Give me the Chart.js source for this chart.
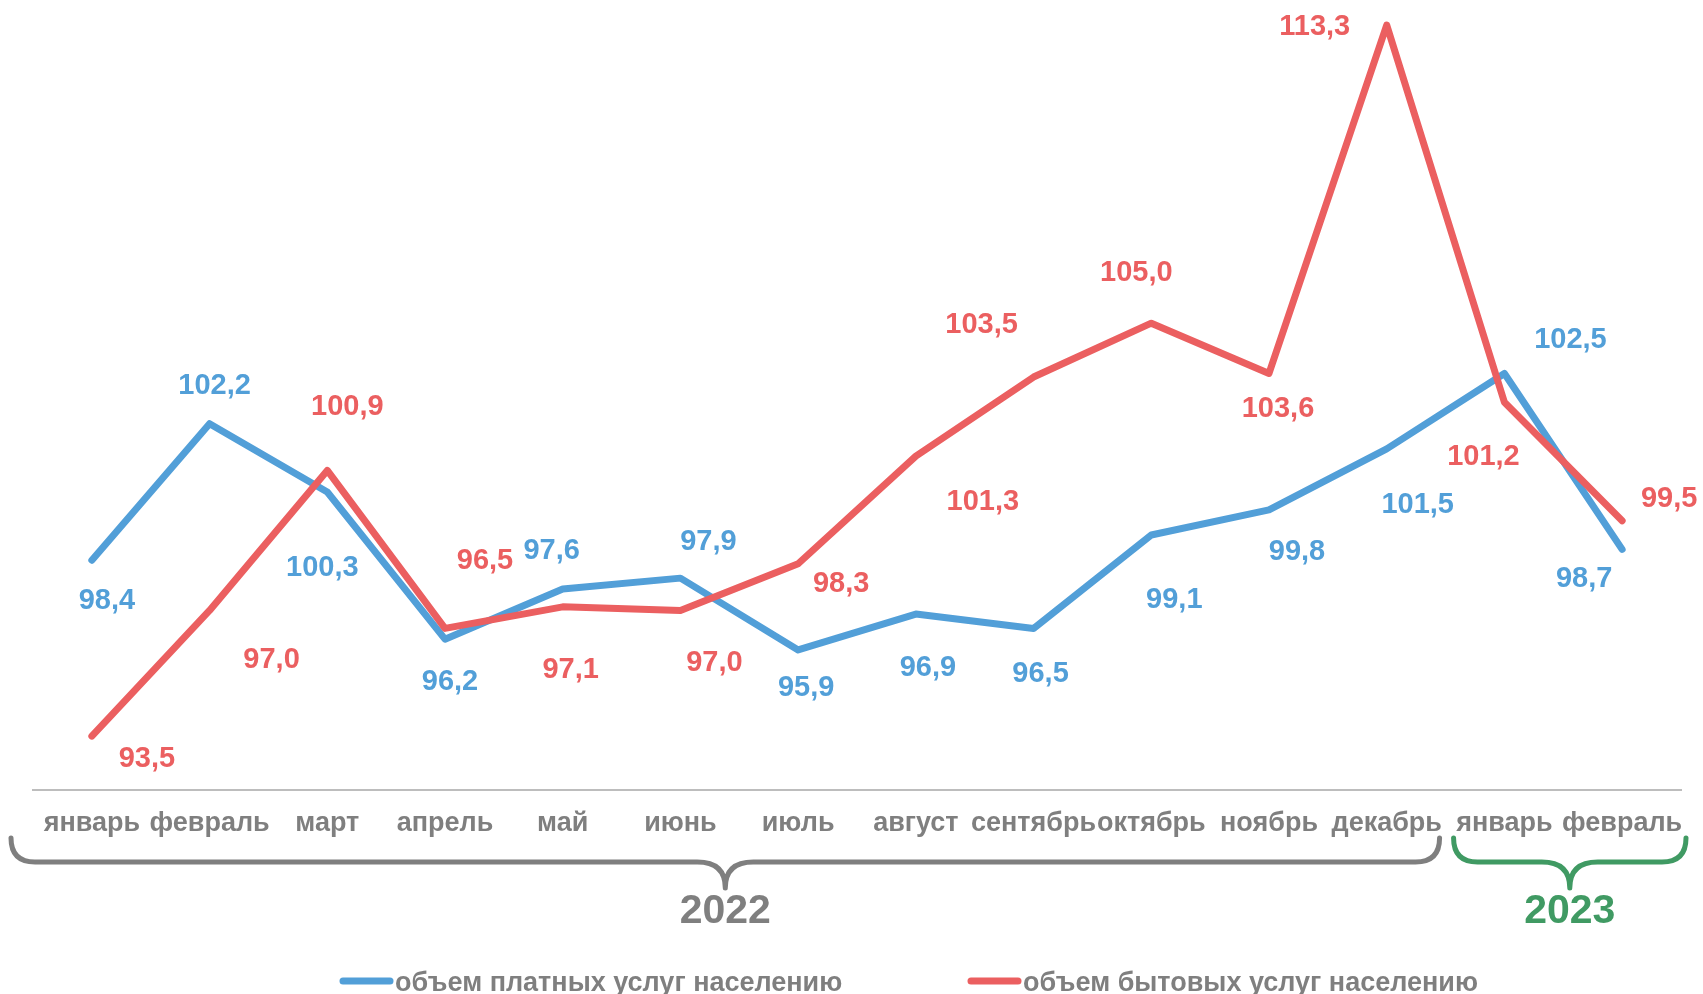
<!DOCTYPE html>
<html lang="ru">
<head>
<meta charset="utf-8">
<title>Объем платных и бытовых услуг населению</title>
<script src="https://cdn.jsdelivr.net/npm/chart.js@4.4.1/dist/chart.umd.min.js"></script>
<style>
  html, body { margin: 0; padding: 0; background: #fff; overflow: hidden; }
  #wrap { width: 1703px; height: 994px; position: relative; }
</style>
</head>
<body>
<div id="wrap"><canvas id="servicesChart"></canvas></div>
<script>
// months on the x axis, grouped into two years
const months = ['январь', 'февраль', 'март', 'апрель', 'май', 'июнь', 'июль',
  'август', 'сентябрь', 'октябрь', 'ноябрь', 'декабрь', 'январь', 'февраль'];
const years = ['2022', '2023'];
const yearFirstMonth = [0, 12];
const yearLastMonth = [11, 13];

const seriesNames = ['объем платных услуг населению', 'объем бытовых услуг населению'];

// line positions as drawn; label texts as printed on the chart
const paidValues = [98.4, 102.2, 100.3, 96.2, 97.6, 97.9, 95.9, 96.9, 96.5, 99.1, 99.8, 101.5, 103.6, 98.7];
const paidLabels = ['98,4', '102,2', '100,3', '96,2', '97,6', '97,9', '95,9', '96,9', '96,5', '99,1', '99,8', '101,5', '102,5', '98,7'];
const householdValues = [93.5, 97.0, 100.9, 96.5, 97.1, 97.0, 98.3, 101.3, 103.5, 105.0, 103.6, 113.3, 102.8, 99.5];
const householdLabels = ['93,5', '97,0', '100,9', '96,5', '97,1', '97,0', '98,3', '101,3', '103,5', '105,0', '103,6', '113,3', '101,2', '99,5'];

const BLUE = '#529fd8';
const RED = '#eb5f60';
const GREY = '#7f7f7f';
const GREEN = '#409a63';
const FONT = "'Liberation Sans', Arial, sans-serif";

// where each value label sits relative to its point (px)
const labelShift = [
  [[15, 41], [5, -38], [-5, 76], [5, 43], [-11, -38], [28, -36], [8, 38],
   [12, 54], [7, 46], [23, 65], [28, 42], [31, 56], [66, -33], [-38, 30]],
  [[55, 23], [62, 50], [20, -63], [40, -67], [8, 63], [34, 53], [43, 20],
   [67, 46], [-52, -52], [-15, -50], [9, 36], [-72, 2], [-21, 55], [47, -22]]
];
const seriesLabels = [paidLabels, householdLabels];

const valueLabels = {
  id: 'valueLabels',
  afterDatasetsDraw(chart) {
    const ctx = chart.ctx;
    ctx.save();
    ctx.font = 'bold 29px ' + FONT;
    ctx.textAlign = 'center';
    ctx.textBaseline = 'middle';
    chart.data.datasets.forEach((ds, d) => {
      const meta = chart.getDatasetMeta(d);
      ctx.fillStyle = ds.borderColor;
      meta.data.forEach((pt, i) => {
        const s = labelShift[d][i];
        ctx.fillText(seriesLabels[d][i], pt.x + s[0], pt.y + s[1]);
      });
    });
    ctx.restore();
  }
};

function drawBrace(ctx, x0, x1, color) {
  const top = 838, mid = 862, tip = 888, r = 24, rc = 28;
  const cx = (x0 + x1) / 2;
  ctx.beginPath();
  ctx.moveTo(x0, top);
  ctx.quadraticCurveTo(x0, mid, x0 + r, mid);
  ctx.lineTo(cx - rc, mid);
  ctx.quadraticCurveTo(cx, mid, cx, tip);
  ctx.quadraticCurveTo(cx, mid, cx + rc, mid);
  ctx.lineTo(x1 - r, mid);
  ctx.quadraticCurveTo(x1, mid, x1, top);
  ctx.strokeStyle = color;
  ctx.lineWidth = 5;
  ctx.lineCap = 'round';
  ctx.lineJoin = 'round';
  ctx.stroke();
  return cx;
}

const yearBraces = {
  id: 'yearBraces',
  afterDraw(chart) {
    const ctx = chart.ctx;
    const x = chart.scales.x;
    const half = (x.getPixelForValue(1) - x.getPixelForValue(0)) / 2;
    const colors = [GREY, GREEN];
    const pad = [[-22, -6], [8, 5]];
    ctx.save();
    years.forEach((yr, k) => {
      const x0 = x.getPixelForValue(yearFirstMonth[k]) - half + pad[k][0];
      const x1 = x.getPixelForValue(yearLastMonth[k]) + half + pad[k][1];
      const cx = drawBrace(ctx, x0, x1, colors[k]);
      ctx.fillStyle = colors[k];
      ctx.font = 'bold 41px ' + FONT;
      ctx.textAlign = 'center';
      ctx.textBaseline = 'middle';
      ctx.fillText(yr, cx, 912);
    });

    // legend along the bottom edge
    const legendX = [343, 971];
    ctx.font = 'bold 27px ' + FONT;
    ctx.textAlign = 'left';
    chart.data.datasets.forEach((ds, d) => {
      ctx.beginPath();
      ctx.moveTo(legendX[d], 981);
      ctx.lineTo(legendX[d] + 47, 981);
      ctx.strokeStyle = ds.borderColor;
      ctx.lineWidth = 7;
      ctx.stroke();
      ctx.fillStyle = GREY;
      ctx.fillText(ds.label, legendX[d] + 52, 984);
    });
    ctx.restore();
  }
};

new Chart(document.getElementById('servicesChart'), {
  type: 'line',
  data: {
    labels: months,
    datasets: [{
      label: seriesNames[0],
      data: paidValues,
      borderColor: BLUE,
      backgroundColor: BLUE,
      borderWidth: 7,
      borderCapStyle: 'round',
      borderJoinStyle: 'round',
      pointRadius: 0,
      tension: 0,
      order: 2
    }, {
      label: seriesNames[1],
      data: householdValues,
      borderColor: RED,
      backgroundColor: RED,
      borderWidth: 7,
      borderCapStyle: 'round',
      borderJoinStyle: 'round',
      pointRadius: 0,
      tension: 0,
      order: 1
    }]
  },
  options: {
    responsive: true,
    maintainAspectRatio: false,
    animation: false,
    layout: { padding: { left: 33, right: 22, top: 0, bottom: 0 } },
    plugins: { legend: { display: false }, tooltip: { enabled: false } },
    scales: {
      x: {
        offset: true,
        grid: { display: false, drawTicks: false, offset: true },
        border: { display: true, color: '#bdbdbd', width: 2 },
        ticks: {
          color: GREY,
          font: { family: FONT, size: 27, weight: 'bold' },
          padding: 17,
          autoSkip: false,
          maxRotation: 0,
          minRotation: 0
        },
        afterFit(scale) { scale.height = 204; }
      },
      y: { display: false, min: 92, max: 114 }
    }
  },
  plugins: [valueLabels, yearBraces]
});
</script>
</body>
</html>
